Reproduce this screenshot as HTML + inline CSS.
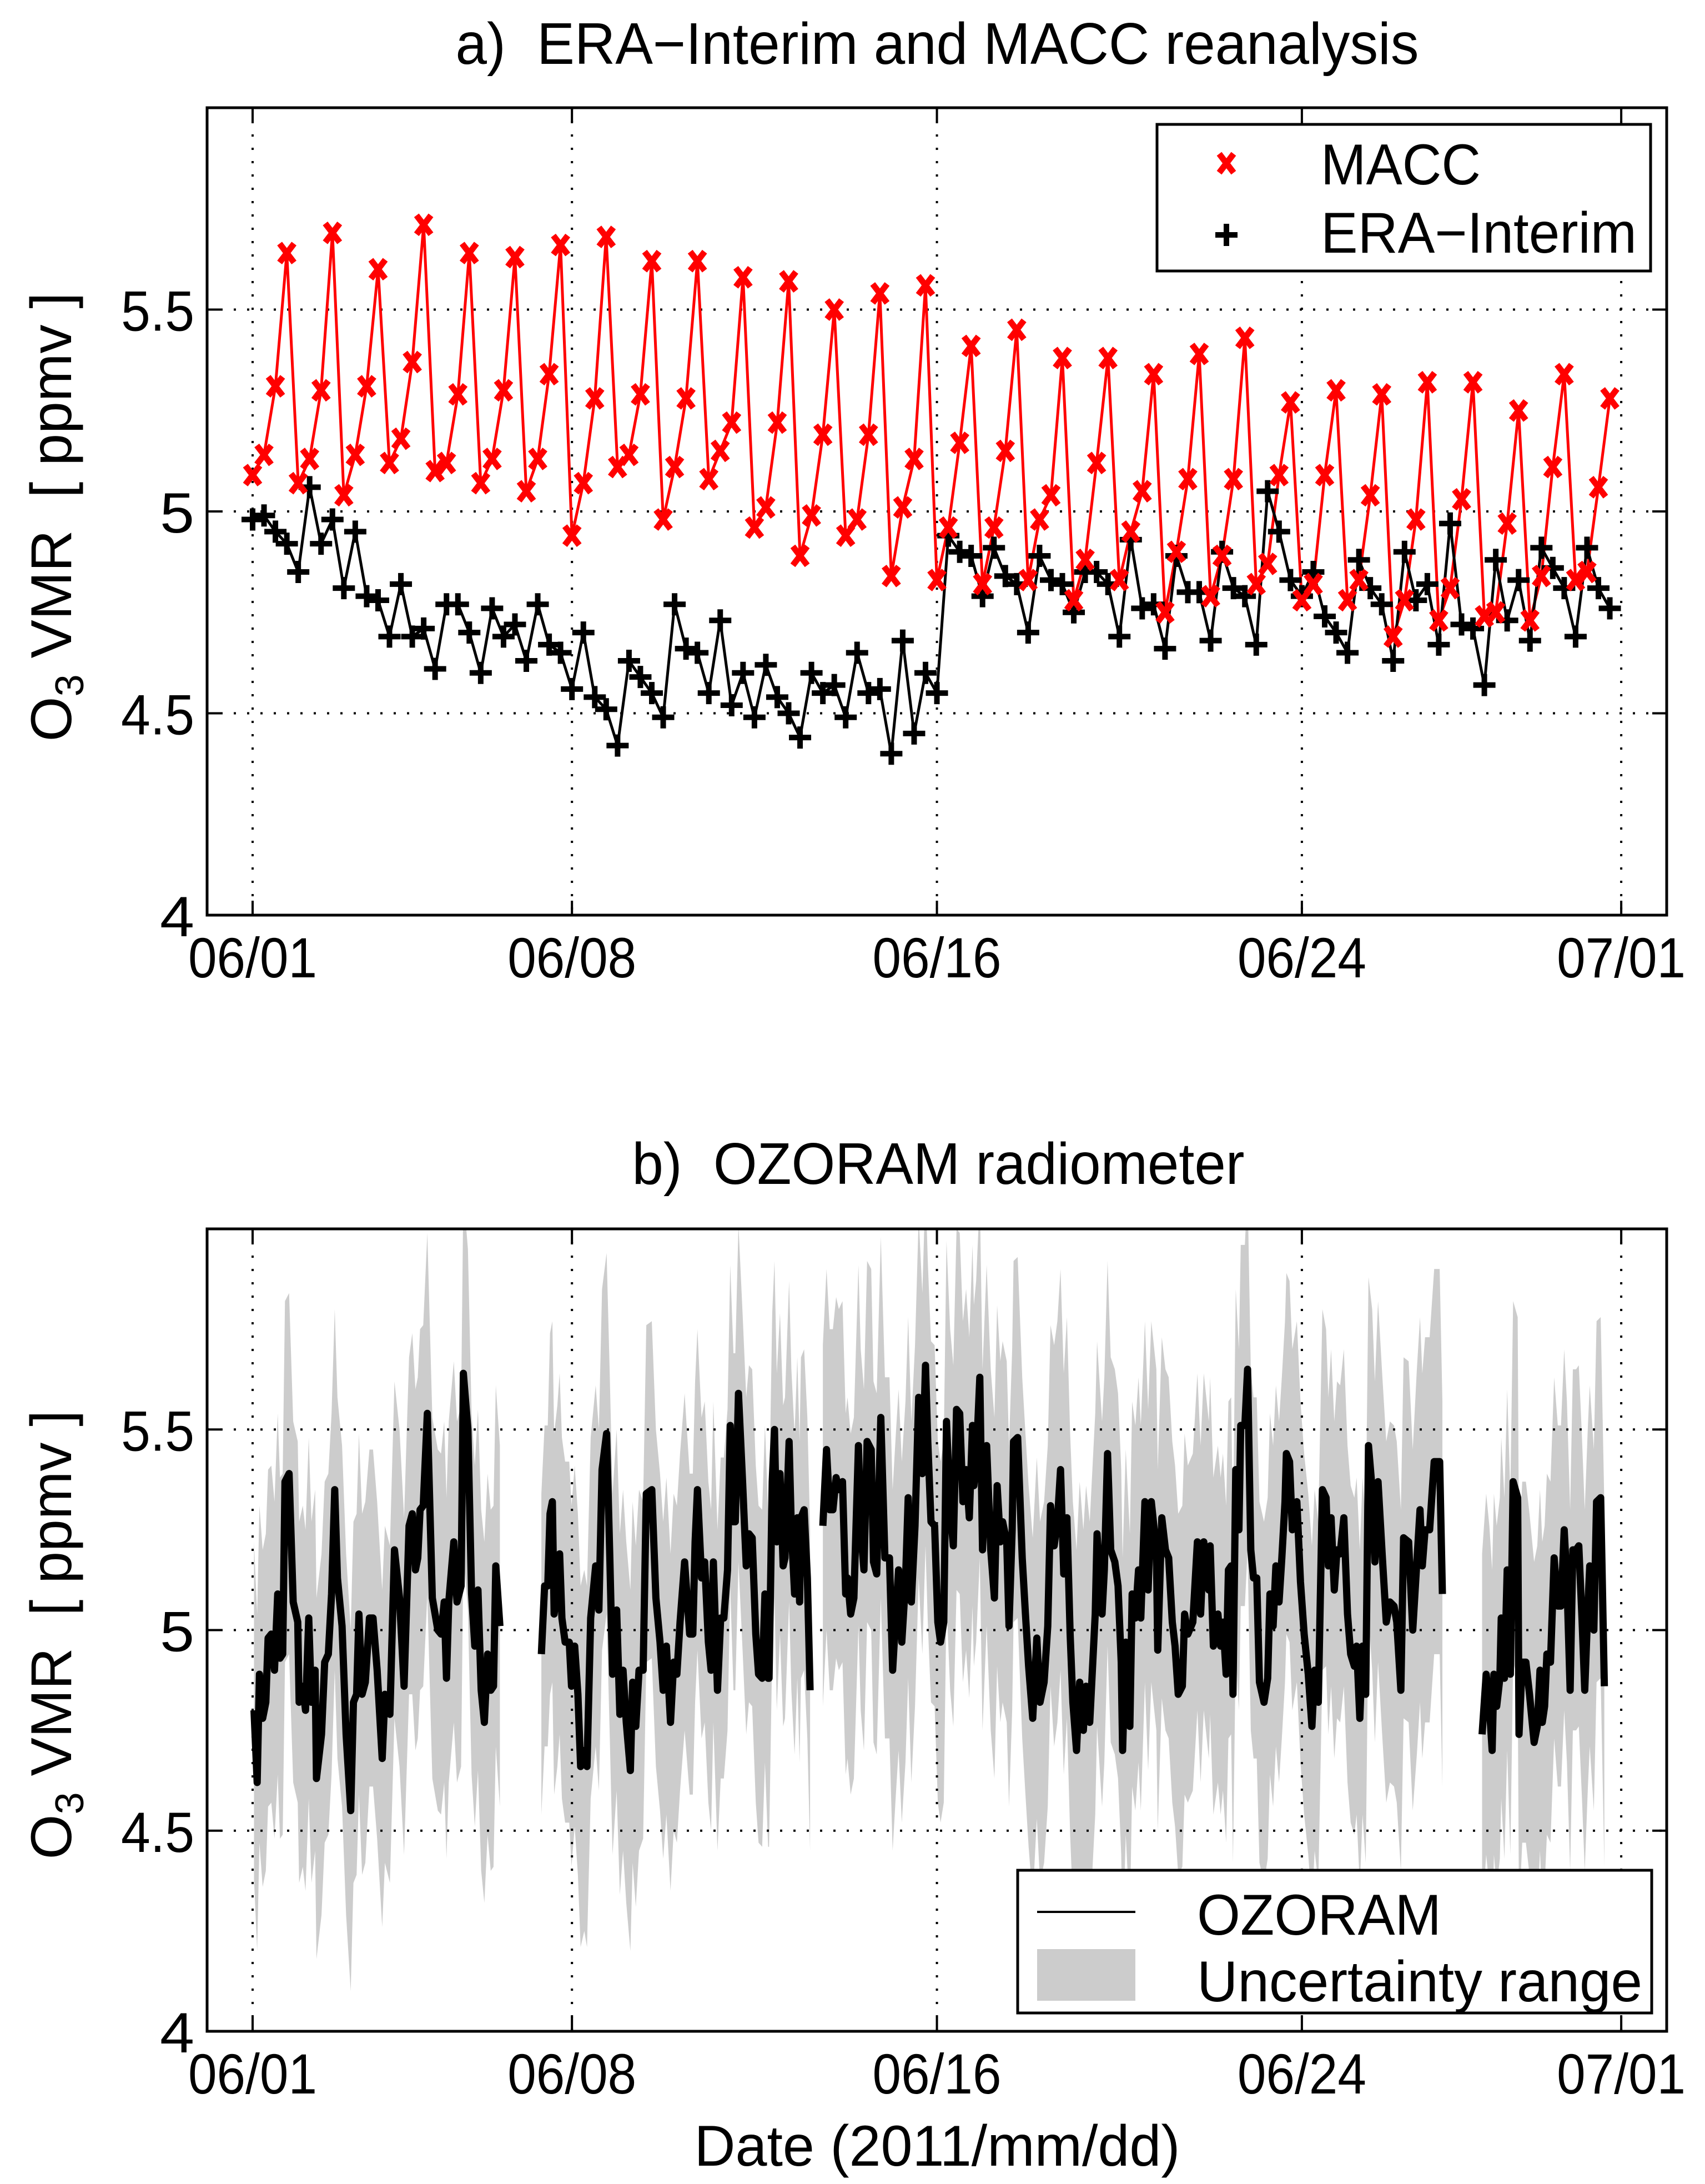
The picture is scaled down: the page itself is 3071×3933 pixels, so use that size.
<!DOCTYPE html>
<html><head><meta charset="utf-8"><style>html,body{margin:0;padding:0;background:#fff}svg{display:block}text{font-family:"Liberation Sans",Arial,sans-serif;fill:#000}</style></head>
<body>
<svg id="fig" xmlns="http://www.w3.org/2000/svg" width="3071" height="3933" viewBox="0 0 3071 3933">
<rect x="0" y="0" width="3071" height="3933" fill="#fff"/>
<defs>
<clipPath id="clipB"><rect x="373" y="2213" width="2629" height="1445"/></clipPath>
<clipPath id="clipA"><rect x="373" y="194" width="2629" height="1454"/></clipPath>
</defs>
<g id="panelA"></g>
<g id="panelB"></g>
</svg>
<script>
const xTickDays=[0,7,15,23,30];
const xTickLabels=["06/01","06/08","06/16","06/24","07/01"];
const yTickVals=[4,4.5,5,5.5];
const yTickLabels=["4","4.5","5","5.5"];
const sampleStepDays=0.25;
const maccValues=[5.09,5.14,5.31,5.64,5.07,5.13,5.30,5.69,5.04,5.14,5.31,5.60,5.12,5.18,5.37,5.71,5.10,5.12,5.29,5.64,5.07,5.13,5.30,5.63,5.05,5.13,5.34,5.66,4.94,5.07,5.28,5.68,5.11,5.14,5.29,5.62,4.98,5.11,5.28,5.62,5.08,5.15,5.22,5.58,4.96,5.01,5.22,5.57,4.89,4.99,5.19,5.50,4.94,4.98,5.19,5.54,4.84,5.01,5.13,5.56,
4.83,4.96,5.17,5.41,4.82,4.96,5.15,5.45,4.83,4.98,5.04,5.38,4.78,4.88,5.12,5.38,4.83,4.95,5.05,5.34,4.75,4.90,5.08,5.39,4.79,4.89,5.08,5.43,4.82,4.87,5.09,5.27,4.78,4.82,5.09,5.30,4.78,4.83,5.04,5.29,4.69,4.78,4.98,5.32,4.73,4.81,5.03,5.32,4.74,4.75,4.97,5.25,4.73,4.84,5.11,5.34,4.83,4.85,5.06,5.28];
const eraValues=[4.98,4.99,4.95,4.92,4.85,5.06,4.92,4.98,4.81,4.95,4.79,4.78,4.69,4.82,4.69,4.71,4.61,4.77,4.77,4.70,4.60,4.76,4.69,4.72,4.63,4.77,4.67,4.65,4.56,4.70,4.54,4.51,4.42,4.63,4.59,4.55,4.49,4.77,4.66,4.65,4.55,4.73,4.52,4.60,4.49,4.62,4.54,4.50,4.44,4.60,4.55,4.57,4.49,4.65,4.55,4.56,4.40,4.68,4.45,4.60,
4.55,4.94,4.90,4.89,4.79,4.91,4.84,4.82,4.70,4.89,4.83,4.82,4.75,4.85,4.85,4.82,4.69,4.93,4.76,4.77,4.66,4.89,4.80,4.80,4.68,4.90,4.81,4.79,4.67,5.05,4.95,4.83,4.79,4.85,4.74,4.70,4.65,4.88,4.81,4.77,4.63,4.90,4.78,4.82,4.67,4.97,4.72,4.71,4.57,4.88,4.73,4.83,4.68,4.91,4.86,4.81,4.69,4.91,4.81,4.76];
const seg1Days=[0.03,0.10,0.15,0.22,0.29,0.34,0.41,0.48,0.55,0.60,0.66,0.71,0.80,0.89,0.99,1.02,1.10,1.16,1.23,1.29,1.37,1.40,1.51,1.58,1.66,1.73,1.80,1.86,1.96,2.05,2.15,2.21,2.28,2.33,2.40,2.47,2.56,2.64,2.73,2.84,2.90,3.01,3.11,3.22,3.32,3.43,3.50,3.57,3.62,3.67,3.74,3.83,3.94,4.06,4.13,4.20,4.25,4.30,4.41,4.48,4.57,4.62,4.72,4.80,4.87,4.94,5.01,5.08,5.15,5.22,5.28,5.33,5.42];
const seg1Vals=[4.80,4.62,4.89,4.78,4.82,4.98,4.99,4.90,5.09,4.93,4.94,5.37,5.39,5.07,5.02,4.82,4.86,4.80,5.03,4.82,4.90,4.63,4.74,4.92,4.94,5.09,5.35,5.13,5.01,4.74,4.55,4.82,4.84,5.04,4.84,4.87,5.03,5.03,4.90,4.68,4.84,4.79,5.20,5.08,4.86,5.26,5.29,5.15,5.18,5.30,5.31,5.54,5.08,5.00,4.99,5.07,4.88,5.07,5.22,5.07,5.11,5.64,5.50,5.09,4.96,5.10,4.85,4.77,4.94,4.85,4.86,5.16,5.01];
const seg2Days=[6.33,6.40,6.47,6.52,6.57,6.61,6.68,6.73,6.78,6.85,6.94,6.99,7.06,7.13,7.19,7.27,7.33,7.41,7.52,7.59,7.66,7.76,7.83,7.89,7.98,8.05,8.12,8.19,8.28,8.33,8.40,8.47,8.56,8.63,8.75,8.84,8.93,9.00,9.07,9.16,9.23,9.30,9.37,9.47,9.58,9.65,9.70,9.75,9.84,9.91,9.99,10.05,10.10,10.19,10.26,10.33,10.41,
10.47,10.54,10.58,10.65,10.74,10.82,10.88,10.95,11.03,11.09,11.17,11.23,11.30,11.32,11.39,11.44,11.49,11.56,11.63,11.67,11.76,11.81,11.88,11.94,11.99,12.02,12.09,12.16,12.22];
const seg2Vals=[4.94,5.11,5.11,5.29,5.32,5.04,5.11,5.19,5.03,4.97,4.97,4.86,4.96,4.84,4.66,4.70,4.66,5.03,5.16,5.05,5.40,5.49,5.18,4.89,5.05,4.79,4.90,4.77,4.65,4.87,4.76,4.90,4.90,5.34,5.35,5.08,4.97,4.85,4.96,4.77,4.92,4.89,5.02,5.17,4.99,4.99,5.22,5.35,5.13,5.17,4.97,4.90,5.17,4.85,5.03,5.03,5.15,
5.51,5.27,5.27,5.59,5.37,5.16,5.24,5.23,4.99,4.89,4.88,5.09,4.88,4.88,5.37,5.50,5.22,5.39,5.16,5.18,5.47,5.25,5.09,5.28,5.07,5.28,5.30,5.13,4.85];
const seg3Days=[12.50,12.58,12.65,12.72,12.79,12.85,12.93,13.00,13.04,13.11,13.18,13.28,13.33,13.40,13.47,13.56,13.61,13.68,13.77,13.86,13.96,14.03,14.10,14.16,14.23,14.31,14.37,14.44,14.52,14.60,14.68,14.75,14.80,14.87,14.95,15.02,15.08,15.15,15.21,15.29,15.36,15.43,15.50,15.57,15.64,15.71,15.78,15.81,15.86,15.94,16.00,16.09,16.18,16.26,16.32,16.39,16.44,16.53,16.58,16.65,16.68,16.77,16.87,16.94,17.01,17.10,17.19,17.26,17.35,17.43,17.49,17.57,17.64,17.71,17.78,17.85,17.92,17.98,18.06,18.13,18.21,18.27,18.35,18.47,18.51,18.62,18.67,18.74,18.81,18.90,18.97,19.04,19.07,19.14,19.23,19.28,19.35,19.42,19.47,19.56,19.63,19.70,19.81,19.84,19.93,20.01,20.08,20.16,20.22,20.29,20.38,20.43,20.50,20.61,20.71,20.78,20.85,20.96,20.99,21.06,
21.16,21.22,21.27,21.34,21.39,21.45,21.49,21.55,21.62,21.66,21.75,21.81,21.88,21.94,22.01,22.07,22.17,22.25,22.30,22.37,22.43,22.50,22.56,22.63,22.66,22.73,22.79,22.89,22.97,23.05,23.14,23.22,23.28,23.36,23.45,23.53,23.58,23.64,23.71,23.77,23.84,23.92,24.00,24.07,24.15,24.20,24.27,24.33,24.40,24.46,24.54,24.60,24.67,24.76,24.85,24.93,25.02,25.08,25.17,25.23,25.34,25.43,25.52,25.59,25.64,25.70,25.80,25.90,26.02,26.08];
const seg3Vals=[5.26,5.45,5.30,5.30,5.38,5.35,5.37,5.09,5.13,5.04,5.08,5.46,5.25,5.15,5.47,5.45,5.17,5.14,5.53,5.18,5.18,4.90,5.04,5.15,4.97,5.12,5.33,5.07,5.26,5.58,5.39,5.66,5.47,5.27,5.26,5.02,4.97,5.02,5.52,5.30,5.21,5.55,5.54,5.32,5.40,5.28,5.51,5.36,5.42,5.63,5.20,5.46,5.20,5.08,5.36,5.22,5.27,5.22,5.01,5.25,5.47,5.48,5.18,5.04,4.91,4.78,4.98,4.82,4.87,5.01,5.31,5.21,5.27,5.40,5.14,5.28,4.99,4.82,4.70,4.87,4.75,4.86,4.77,5.04,5.24,5.04,5.15,5.44,5.20,5.17,5.11,4.92,4.70,4.97,4.76,5.09,5.03,5.15,5.03,5.32,5.10,5.32,5.20,4.95,5.28,5.20,5.18,5.02,4.96,4.84,4.86,5.04,4.99,5.02,5.22,5.04,5.22,5.10,5.21,4.96,
5.04,4.96,5.02,4.89,5.15,5.16,4.84,5.40,5.25,5.51,5.51,5.65,5.20,5.13,5.13,4.87,4.82,4.88,5.09,5.01,5.16,5.07,5.18,5.32,5.44,5.42,5.25,5.32,5.12,4.99,4.89,4.76,4.90,4.82,5.35,5.33,5.16,5.28,5.10,5.20,5.19,5.28,5.04,4.94,4.91,4.96,4.78,4.96,4.84,5.46,5.35,5.17,5.37,5.19,5.02,5.07,5.06,5.02,4.85,5.23,5.22,5.00,5.17,5.30,5.16,5.25,5.25,5.42,5.42,5.09];
const seg4Days=[26.95,27.04,27.11,27.17,27.21,27.27,27.34,27.37,27.44,27.50,27.57,27.63,27.73,27.76,27.83,27.91,27.99,28.09,28.16,28.22,28.27,28.32,28.37,28.45,28.53,28.61,28.68,28.75,28.81,28.88,28.94,29.01,29.07,29.14,29.20,29.27,29.31,29.40,29.46,29.55,29.63];
const seg4Vals=[4.74,4.89,4.81,4.70,4.89,4.81,4.88,5.03,4.88,5.15,4.89,5.37,5.33,4.74,4.92,4.92,4.84,4.72,4.76,4.90,4.77,4.81,4.94,4.92,5.18,5.06,5.06,5.25,5.12,4.85,5.20,5.20,5.21,5.03,4.85,5.06,5.16,5.00,5.32,5.33,4.86];
const uncHalf=[0.42,0.45,0.45,0.42,0.45,0.45,0.40,0.45,0.45,0.42,0.40,0.42,0.40,0.45,0.45,0.45,0.45,0.45,0.50,0.48,0.45,0.42,0.45,0.45,0.42,0.45,0.48,0.45,0.45,0.45,0.45];

const NS="http://www.w3.org/2000/svg";
const X0=455, PXD=82.17, AXL=373, AXR=3002;
function xs(d){return X0+d*PXD;}
function yA(v){return 1648-(v-4)*727;}
function yB(v){return 3658-(v-4)*722.5;}
function mk(tag,attrs,parent){const e=document.createElementNS(NS,tag);for(const k in attrs)e.setAttribute(k,attrs[k]);parent.appendChild(e);return e;}

function drawAxes(g,top,bot,yf,prefix){
  xTickDays.forEach((d,i)=>{
    const l=mk('line',{x1:xs(d),x2:xs(d),y1:top,y2:bot,stroke:'#000','stroke-width':4,'stroke-dasharray':'4 20'},g);
    
    
  });
  yTickVals.slice(1).forEach((v,i)=>{
    const l=mk('line',{x1:AXL,x2:AXR,y1:yf(v),y2:yf(v),stroke:'#000','stroke-width':4,'stroke-dasharray':'4 20'},g);
    
    
  });
}
function drawFrame(g,top,bot,yf,prefix){
  const f=mk('rect',{x:AXL,y:top,width:AXR-AXL,height:bot-top,fill:'none',stroke:'#000','stroke-width':5},g);
  
  
  xTickDays.forEach((d,i)=>{
    mk('line',{x1:xs(d),x2:xs(d),y1:bot,y2:bot-26,stroke:'#000','stroke-width':4},g);
    mk('line',{x1:xs(d),x2:xs(d),y1:top,y2:top+26,stroke:'#000','stroke-width':4},g);
    const t=mk('text',{x:xs(d),y:bot+112,'font-size':102,'text-anchor':'middle',textLength:232,lengthAdjust:'spacingAndGlyphs'},g);
    t.textContent=xTickLabels[i];
    
    
  });
  yTickVals.forEach((v,i)=>{
    mk('line',{x1:AXL,x2:AXL+26,y1:yf(v),y2:yf(v),stroke:'#000','stroke-width':4},g);
    mk('line',{x1:AXR,x2:AXR-26,y1:yf(v),y2:yf(v),stroke:'#000','stroke-width':4},g);
    const lab=yTickLabels[i];
    const w=lab.length===1?62:132;
    const t=mk('text',{x:350,y:yf(v)+38,'font-size':102,'text-anchor':'end',textLength:w,lengthAdjust:'spacingAndGlyphs'},g);
    t.textContent=lab;
    
    
  });
}
function yLabel(g,cy,prefix){
  const t=mk('text',{x:0,y:0,'font-size':104,'text-anchor':'middle',transform:'translate(128,'+cy+') rotate(-90)'},g);
  
  
  const a=mk('tspan',{},t);a.textContent='O';
  const b=mk('tspan',{'font-size':72,dy:22},t);b.textContent='3';
  const c=mk('tspan',{dy:-22},t);c.textContent=' VMR \u00a0[ ppmv ]';
}

// Panel A
const gA=document.getElementById('panelA');
drawAxes(gA,194,1648,yA,'a');
const ca=mk('g',{'clip-path':'url(#clipA)'},gA);
let pm='',pe='';
maccValues.forEach((v,i)=>{pm+=(i?'L':'M')+xs(i*sampleStepDays).toFixed(1)+','+yA(v).toFixed(1);});
eraValues.forEach((v,i)=>{pe+=(i?'L':'M')+xs(i*sampleStepDays).toFixed(1)+','+yA(v).toFixed(1);});
const lm=mk('path',{d:pm,fill:'none',stroke:'#ff0000','stroke-width':5},ca);


const le=mk('path',{d:pe,fill:'none',stroke:'#000','stroke-width':5},ca);


eraValues.forEach((v,i)=>{
  const cx=xs(i*sampleStepDays),cy=yA(v);
  const p=mk('path',{d:`M${cx-20},${cy}H${cx+20}M${cx},${cy-20}V${cy+20}`,stroke:'#000','stroke-width':10,fill:'none'},ca);
  
  
});
maccValues.forEach((v,i)=>{
  const cx=xs(i*sampleStepDays),cy=yA(v);
  const p=mk('path',{d:`M${cx-13},${cy-17}L${cx+13},${cy+17}M${cx+13},${cy-17}L${cx-13},${cy+17}`,stroke:'#ff0000','stroke-width':11,fill:'none'},ca);
  
  
});
drawFrame(gA,194,1648,yA,'a');
yLabel(gA,931,'a');
let ta=mk('text',{x:1688,y:115,'font-size':106,'text-anchor':'middle',textLength:1735,lengthAdjust:'spacingAndGlyphs'},gA);
ta.textContent='a)\u00a0 ERA\u2212Interim and MACC reanalysis';


const lgA=mk('g',{},gA);


mk('rect',{x:2084,y:224,width:889,height:264,fill:'#fff',stroke:'#000','stroke-width':5},lgA);
mk('path',{d:'M2196,277L2222,311M2222,277L2196,311',stroke:'#ff0000','stroke-width':11},lgA);
mk('path',{d:'M2189,423H2229M2209,403V443',stroke:'#000','stroke-width':10},lgA);
let t1=mk('text',{x:2379,y:332,'font-size':104,textLength:288,lengthAdjust:'spacingAndGlyphs'},lgA);t1.textContent='MACC';


let t2=mk('text',{x:2379,y:455,'font-size':104,textLength:569,lengthAdjust:'spacingAndGlyphs'},lgA);t2.textContent='ERA\u2212Interim';



// Panel B
const gB=document.getElementById('panelB');
const cb=mk('g',{'clip-path':'url(#clipB)'},gB);
const segs=[[seg1Days,seg1Vals],[seg2Days,seg2Vals],[seg3Days,seg3Vals],[seg4Days,seg4Vals]];
function hw(d){const k=Math.max(0,Math.min(uncHalf.length-1,Math.round(d)));return uncHalf[k];}
segs.forEach((s,si)=>{
  const [ds,vs]=s;let up='',dn='';
  ds.forEach((d,i)=>{up+=(i?'L':'M')+xs(d).toFixed(1)+','+yB(vs[i]+hw(d)).toFixed(1);});
  for(let i=ds.length-1;i>=0;i--){dn+='L'+xs(ds[i]).toFixed(1)+','+yB(vs[i]-hw(ds[i])).toFixed(1);}
  const b=mk('path',{d:up+dn+'Z',fill:'#cccccc',stroke:'none'},cb);
  
  
});
drawAxes(gB,2213,3658,yB,'b');
segs.forEach((s,si)=>{
  const [ds,vs]=s;let p='';
  ds.forEach((d,i)=>{p+=(i?'L':'M')+xs(d).toFixed(1)+','+yB(vs[i]).toFixed(1);});
  const l=mk('path',{d:p,fill:'none',stroke:'#000','stroke-width':13,'stroke-linejoin':'round'},cb);
  
  
});
drawFrame(gB,2213,3658,yB,'b');
yLabel(gB,2944,'b');
let tb=mk('text',{x:1690,y:2132,'font-size':106,'text-anchor':'middle',textLength:1103,lengthAdjust:'spacingAndGlyphs'},gB);
tb.textContent='b)\u00a0 OZORAM radiometer';


let tx=mk('text',{x:1688,y:3900,'font-size':104,'text-anchor':'middle',textLength:875,lengthAdjust:'spacingAndGlyphs'},gB);
tx.textContent='Date (2011/mm/dd)';


const lgB=mk('g',{},gB);


mk('rect',{x:1833,y:3368,width:1142,height:257,fill:'#fff',stroke:'#000','stroke-width':5},lgB);
mk('line',{x1:1868,x2:2045,y1:3443,y2:3443,stroke:'#000','stroke-width':4},lgB);
mk('rect',{x:1868,y:3510,width:177,height:93,fill:'#cccccc'},lgB);
let t3=mk('text',{x:2156,y:3484,'font-size':104,textLength:440,lengthAdjust:'spacingAndGlyphs'},lgB);t3.textContent='OZORAM';


let t4=mk('text',{x:2156,y:3604,'font-size':104,textLength:802,lengthAdjust:'spacingAndGlyphs'},lgB);t4.textContent='Uncertainty range';


</script>
</body></html>
